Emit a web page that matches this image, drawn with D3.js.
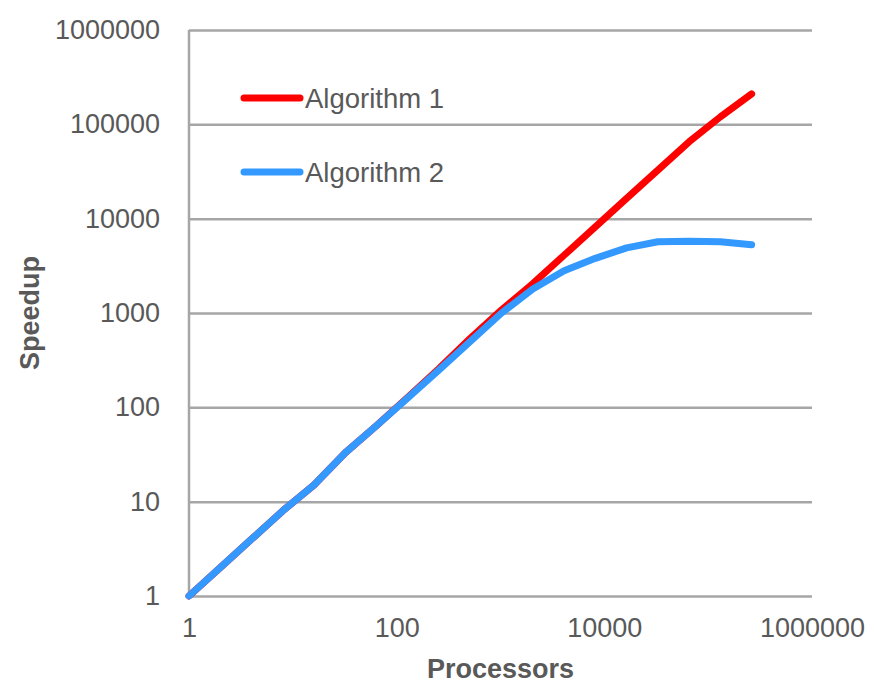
<!DOCTYPE html>
<html>
<head>
  <meta charset="utf-8">
  <script src="https://d3js.org/d3.v7.min.js"></script>
  <style>
  body{
    margin:0;
    background:#ffffff;
  }
  .axis text{
    font-family:"Liberation Sans", Arial, sans-serif;
    font-size:27px;
    fill:#595959;
  }
  .axis path{
    display:none;
  }
  .grid line{
    stroke:#a6a6a6;
    stroke-width:2.5px;
  }
  .title{
    font-family:"Liberation Sans", Arial, sans-serif;
    font-size:27px;
    font-weight:bold;
    fill:#595959;
  }
  .legend text{
    font-family:"Liberation Sans", Arial, sans-serif;
    font-size:27.5px;
    fill:#595959;
  }
  .series{
    fill:none;
    stroke-width:7px;
    stroke-linecap:round;
    stroke-linejoin:round;
  }
  </style>
</head>
<body>
  <div id="chart">
    <svg width="874" height="683"></svg>
  </div>
<script>
// processors = powers of two, 2^0 .. 2^18
var processors = [1, 2, 4, 8, 16, 32, 64, 128, 256, 512, 1024, 2048, 4096,
                  8192, 16384, 32768, 65536, 131072, 262144];
var algorithm1 = [1, 2, 4, 8, 15, 33, 64, 128, 258, 540, 1080, 2048, 4096,
                  8192, 16400, 32700, 65300, 120000, 210000];
var algorithm2 = [1, 2, 4, 8, 15, 33, 64, 126, 250, 500, 1000, 1800, 2800,
                  3800, 4900, 5700, 5750, 5700, 5300];
var seriesNames = ["Algorithm 1", "Algorithm 2"];
var seriesColors = ["#ff0000", "#3399ff"];
var xTicks = [1, 100, 10000, 1000000];
var yTicks = [1, 10, 100, 1000, 10000, 100000, 1000000];

var svg = d3.select("svg"),
    margin = {top:30, right:62, bottom:87, left:189},
    width = +svg.attr("width") - margin.left - margin.right,
    height = +svg.attr("height") - margin.top - margin.bottom;

var x = d3.scaleLog().domain([1, 1000000]).range([0, width]),
    y = d3.scaleLog().domain([1, 1000000]).range([height, 0]);

var g = svg.append("g")
  .attr("transform", "translate(" + margin.left + "," + margin.top + ")");

// horizontal gridlines (bottom one doubles as the x axis line)
g.append("g")
  .attr("class", "grid")
  .call(d3.axisLeft(y).tickValues(yTicks).tickSize(-width).tickFormat(""))
  .select(".domain").remove();

// left axis line
g.append("line")
  .attr("x1", 0).attr("x2", 0)
  .attr("y1", 0).attr("y2", height)
  .attr("stroke", "#a6a6a6")
  .attr("stroke-width", 2.5);

g.append("g")
  .attr("class", "axis axis--y")
  .call(d3.axisLeft(y).tickValues(yTicks).tickSize(0).tickPadding(29)
    .tickFormat(d3.format("d")))
  .selectAll("text")
  .attr("dy", "0.32em");

g.append("g")
  .attr("class", "axis axis--x")
  .attr("transform", "translate(0," + height + ")")
  .call(d3.axisBottom(x).tickValues(xTicks).tickSize(0).tickPadding(22)
    .tickFormat(d3.format("d")));

// axis titles
svg.append("text")
  .attr("class", "title")
  .attr("x", margin.left + width / 2)
  .attr("y", 678)
  .attr("text-anchor", "middle")
  .text("Processors");

svg.append("text")
  .attr("class", "title")
  .attr("transform", "translate(39," + (margin.top + height / 2) + ") rotate(-90)")
  .attr("text-anchor", "middle")
  .text("Speedup");

// lines
var line = d3.line()
  .x(function(d){ return x(d[0]); })
  .y(function(d){ return y(d[1]); });

[algorithm1, algorithm2].forEach(function(vals, i){
  g.append("path")
    .datum(processors.map(function(p, j){ return [p, vals[j]]; }))
    .attr("class", "series")
    .attr("stroke", seriesColors[i])
    .attr("d", line);
});

// legend
var legend = g.append("g").attr("class", "legend");
seriesNames.forEach(function(name, i){
  var ly = 68 + i * 74;
  legend.append("line")
    .attr("x1", 55).attr("x2", 111)
    .attr("y1", ly).attr("y2", ly)
    .attr("stroke", seriesColors[i])
    .attr("stroke-width", 7)
    .attr("stroke-linecap", "round");
  legend.append("text")
    .attr("x", 116)
    .attr("y", ly)
    .attr("dy", "0.35em")
    .text(name);
});
</script>
</body>
</html>
